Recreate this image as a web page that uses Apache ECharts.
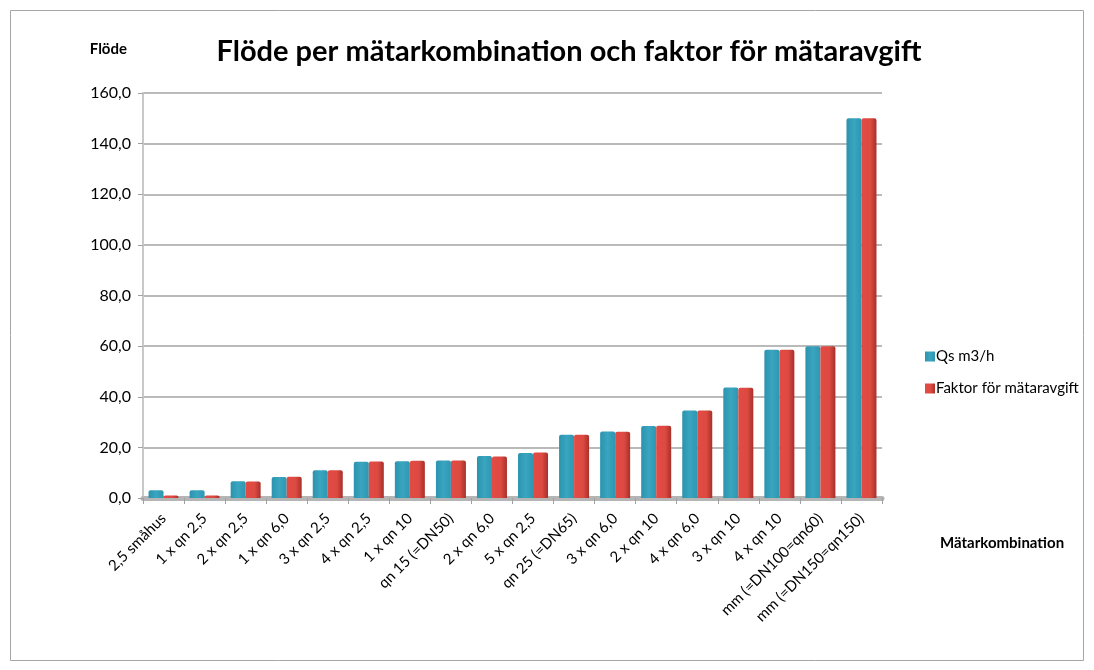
<!DOCTYPE html>
<html>
<head>
<meta charset="utf-8">
<script src="https://cdn.jsdelivr.net/npm/echarts@6/dist/echarts.min.js"></script>
<style>
  html, body { margin: 0; padding: 0; background: #ffffff; }
  #chart { width: 1094px; height: 670px; }
</style>
</head>
<body>
<div id="chart"></div>
<script>
// Meter combinations along the x axis
const categories = [
  '2,5 småhus', '1 x qn 2,5', '2 x qn 2,5', '1 x qn 6,0', '3 x qn 2,5',
  '4 x qn 2,5', '1 x qn 10', 'qn 15 (=DN50)', '2 x qn 6,0', '5 x qn 2,5',
  'qn 25 (=DN65)', '3 x qn 6,0', '2 x qn 10', '4 x qn 6,0', '3 x qn 10',
  '4 x qn 10', 'mm (=DN100=qn60)', 'mm (=DN150=qn150)'
];

// Flow per combination (m3/h)
const qsValues = [3.1, 3.1, 6.6, 8.3, 11.0, 14.3, 14.5, 14.8, 16.6, 17.8,
                  25.0, 26.3, 28.4, 34.6, 43.7, 58.6, 60.0, 150.0];

// Factor used for the meter fee
const faktorValues = [1.0, 1.0, 6.5, 8.4, 11.0, 14.4, 14.7, 14.8, 16.4, 18.0,
                      25.0, 26.2, 28.5, 34.6, 43.6, 58.6, 60.0, 150.0];

const seriesNames = ['Qs m3/h', 'Faktor för mätaravgift'];
const yTicks = { min: 0, max: 160, interval: 20 };

const font = 'Lato, "Open Sans", sans-serif';

const tealFill = new echarts.graphic.LinearGradient(0, 0, 1, 0, [
  { offset: 0, color: '#2b93ad' },
  { offset: 0.5, color: '#3aa5c0' },
  { offset: 1, color: '#2e97b2' }
]);
const redFill = new echarts.graphic.LinearGradient(0, 0, 1, 0, [
  { offset: 0, color: '#e24b45' },
  { offset: 0.6, color: '#dc4a40' },
  { offset: 1, color: '#a8302b' }
]);

const chart = echarts.init(document.getElementById('chart'), null, { renderer: 'canvas' });

chart.setOption({
  backgroundColor: '#ffffff',
  animation: false,
  textStyle: { fontFamily: font },
  title: {
    text: 'Flöde per mätarkombination och faktor för mätaravgift',
    left: 564,
    top: 32,
    textAlign: 'center',
    textStyle: { fontFamily: font, fontSize: 29, fontWeight: 'bold', color: '#000' }
  },
  graphic: [
    {
      type: 'rect',
      shape: { x: 10.5, y: 10.5, width: 1073, height: 650 },
      style: { fill: 'none', stroke: '#a6a6a6', lineWidth: 1 },
      silent: true,
      z: 0
    }
  ],
  legend: {
    orient: 'vertical',
    left: 920,
    top: 344,
    itemGap: 17,
    itemWidth: 10,
    itemHeight: 10,
    icon: 'rect',
    textStyle: { fontFamily: font, fontSize: 15, color: '#000', padding: [0, 0, 0, -4] },
    data: seriesNames
  },
  grid: { left: 143, right: 212, top: 93, bottom: 172 },
  xAxis: {
    type: 'category',
    data: categories,
    name: 'Mätarkombination',
    nameLocation: 'end',
    nameGap: 58,
    nameTextStyle: { fontFamily: font, fontSize: 15, fontWeight: 'bold', color: '#000',
                     verticalAlign: 'top', padding: [38, 0, 0, 0] },
    axisLine: { show: true, lineStyle: { color: '#b5b5b5', width: 5 } },
    axisTick: { show: true, alignWithLabel: false, length: 6, lineStyle: { color: '#a0a0a0', width: 1 } },
    axisLabel: { rotate: 45, fontFamily: font, fontSize: 15, color: '#000', margin: 18, interval: 0 }
  },
  yAxis: {
    type: 'value',
    min: yTicks.min,
    max: yTicks.max,
    interval: yTicks.interval,
    name: 'Flöde',
    nameLocation: 'end',
    nameGap: 36,
    nameTextStyle: { fontFamily: font, fontSize: 15, fontWeight: 'bold', color: '#000', align: 'right', padding: [0, 16, 0, 0] },
    axisLine: { show: true, lineStyle: { color: '#c8c8c8', width: 2 } },
    axisTick: { show: true, inside: false, length: 5, lineStyle: { color: '#a0a0a0' } },
    axisLabel: {
      fontFamily: font, fontSize: 16, color: '#000', margin: 12,
      formatter: v => v.toFixed(1).replace('.', ',')
    },
    splitLine: { show: true, lineStyle: { color: '#a3a3a3', width: 1.5 } }
  },
  series: [
    {
      name: seriesNames[0],
      type: 'bar',
      data: qsValues,
      barWidth: 15,
      barGap: '0%',
      color: '#2f98b3',
      itemStyle: { color: tealFill, borderRadius: [2, 2, 0, 0] },
      z: 3
    },
    {
      name: seriesNames[1],
      type: 'bar',
      data: faktorValues,
      barWidth: 15,
      color: '#d8443e',
      itemStyle: { color: redFill, borderRadius: [2, 2, 0, 0] },
      z: 3
    }
  ]
});
</script>
</body>
</html>
